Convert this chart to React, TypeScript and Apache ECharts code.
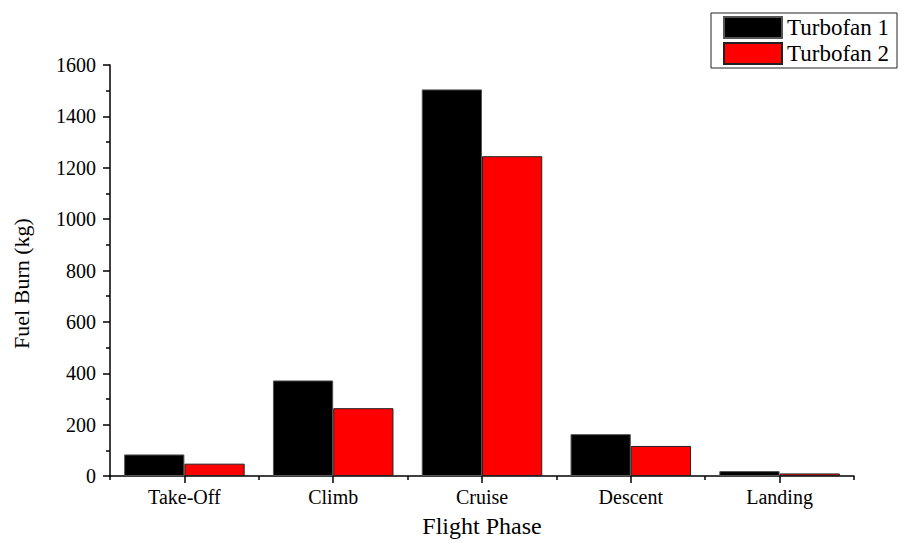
import React, { useEffect, useRef } from "react";
import * as echarts from "echarts";

const categories = ["Take-Off", "Climb", "Cruise", "Descent", "Landing"];
const turbofan1 = [84, 372, 1505, 163, 19];
const turbofan2 = [48, 264, 1245, 117, 10];
const seriesNames = ["Turbofan 1", "Turbofan 2"];
const yTicks = { min: 0, max: 1600, interval: 200 };

const FONT = "Liberation Serif";

export default function App() {
  const ref = useRef<HTMLDivElement>(null);
  useEffect(() => {
    if (!ref.current) return;
    const chart = echarts.init(ref.current, null, { renderer: "svg" });
    chart.setOption({
      animation: false,
      textStyle: { fontFamily: FONT, color: "#000" },
      grid: { left: 110, right: 56, top: 65, bottom: 63.5, containLabel: false },
      legend: {
        orient: "vertical",
        left: 711,
        top: 13,
        padding: [3, 8, 3, 12],
        itemWidth: 58,
        itemHeight: 21,
        itemGap: 3,
        borderColor: "#222",
        borderWidth: 1,
        icon: "rect",
        textStyle: { fontFamily: FONT, fontSize: 23, color: "#000" },
        data: seriesNames,
      },
      xAxis: [
        {
          type: "category",
          data: categories,
          position: "bottom",
          name: "Flight Phase",
          nameLocation: "middle",
          nameGap: 38,
          nameTextStyle: { fontFamily: FONT, fontSize: 24, color: "#000" },
          axisLine: { lineStyle: { color: "#000", width: 1.5 } },
          axisTick: { show: true, alignWithLabel: true, length: 7, lineStyle: { color: "#000", width: 1.5 } },
          axisLabel: { fontFamily: FONT, fontSize: 20, color: "#000", margin: 11 },
        },
        {
          type: "category",
          data: categories,
          position: "bottom",
          gridIndex: 0,
          axisLine: { show: false },
          axisTick: { show: true, length: 4, lineStyle: { color: "#000", width: 1.5 } },
          axisLabel: { show: false },
        },
      ],
      yAxis: {
        type: "value",
        min: yTicks.min,
        max: yTicks.max,
        interval: yTicks.interval,
        name: "Fuel Burn (kg)",
        nameLocation: "middle",
        nameGap: 78,
        nameTextStyle: { fontFamily: FONT, fontSize: 22, color: "#000", padding: [0, 26, 0, 0] },
        axisLine: { show: true, lineStyle: { color: "#000", width: 1.5 } },
        axisTick: { show: true, length: 7, lineStyle: { color: "#000", width: 1.5 } },
        minorTick: { show: true, splitNumber: 2, length: 4, lineStyle: { color: "#000", width: 1.5 } },
        splitLine: { show: false },
        axisLabel: {
          fontFamily: FONT,
          fontSize: 20,
          color: "#000",
          margin: 14,
          formatter: (v: number) => String(v),
        },
      },
      series: [
        {
          name: seriesNames[0],
          type: "bar",
          data: turbofan1,
          barGap: "0%",
          barCategoryGap: "19%",
          itemStyle: { color: "#000", borderColor: "#555", borderWidth: 1 },
        },
        {
          name: seriesNames[1],
          type: "bar",
          data: turbofan2,
          barGap: "0%",
          barCategoryGap: "19%",
          itemStyle: { color: "#ff0000", borderColor: "#222", borderWidth: 1 },
        },
      ],
    });
    return () => chart.dispose();
  }, []);
  return <div ref={ref} style={{ width: 910, height: 543, position: "absolute", left: 0, top: 0 }} />;
}
